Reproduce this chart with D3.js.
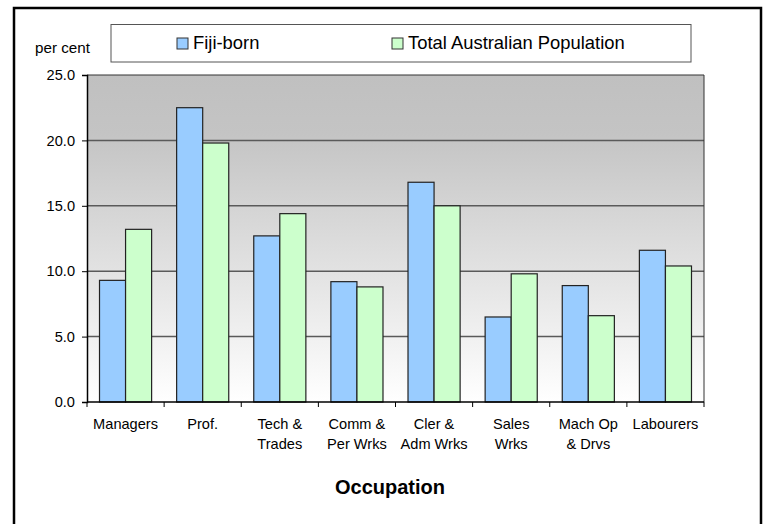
<!DOCTYPE html>
<html>
<head>
<meta charset="utf-8">
<script src="https://cdn.jsdelivr.net/npm/d3@7"></script>
<style>
  body { margin: 0; background: #fff; }
  text { font-family: "Liberation Sans", Arial, sans-serif; fill: #000; }
</style>
</head>
<body>
<div class="chart"></div>
<script>
// Data
const categories = [
  ["Managers"], ["Prof."], ["Tech &", "Trades"], ["Comm &", "Per Wrks"],
  ["Cler &", "Adm Wrks"], ["Sales", "Wrks"], ["Mach Op", "& Drvs"], ["Labourers"]
];
const seriesNames = ["Fiji-born", "Total Australian Population"];
const fijiBorn = [9.3, 22.5, 12.7, 9.2, 16.8, 6.5, 8.9, 11.6];
const totalAus = [13.2, 19.8, 14.4, 8.8, 15.0, 9.8, 6.6, 10.4];
const yTicks = [0, 5, 10, 15, 20, 25];
const colors = ["#99ccff", "#ccffcc"];

const W = 765, H = 524;
const margin = {top: 75, right: 61, bottom: 122, left: 87};
const w = W - margin.left - margin.right;
const h = H - margin.top - margin.bottom;

const svg = d3.select(".chart")
    .append("svg")
        .attr("width", W)
        .attr("height", H);

// outer frame
svg.append("rect")
    .attr("x", 14).attr("y", 8)
    .attr("width", 747).attr("height", 530)
    .attr("fill", "none")
    .attr("stroke", "#000")
    .attr("stroke-width", 2.5);

// gradient for plot background
const grad = svg.append("defs").append("linearGradient")
    .attr("id", "bg").attr("x1", 0).attr("y1", 0).attr("x2", 0).attr("y2", 1);
grad.append("stop").attr("offset", "0%").attr("stop-color", "#c0c0c0");
grad.append("stop").attr("offset", "18%").attr("stop-color", "#c4c4c4");
grad.append("stop").attr("offset", "100%").attr("stop-color", "#ffffff");

const g = svg.append("g")
    .attr("transform", "translate(" + margin.left + ", " + margin.top + ")");

g.append("rect")
    .attr("width", w).attr("height", h)
    .attr("fill", "url(#bg)");

// scales
const x = d3.scaleBand()
    .domain(d3.range(categories.length))
    .range([0, w]);
const xInner = d3.scaleBand()
    .domain([0, 1])
    .range([0, x.bandwidth()])
    .paddingOuter(0.48);
const y = d3.scaleLinear()
    .domain([0, 25])
    .range([h, 0]);

// gridlines
g.selectAll(".grid")
    .data(yTicks.filter(d => d > 0 && d < 25))
    .enter()
    .append("line")
        .attr("x1", 0).attr("x2", w)
        .attr("y1", d => y(d)).attr("y2", d => y(d))
        .attr("stroke", "#5a5a5a")
        .attr("stroke-width", 1.5);

// plot border top/right
g.append("path")
    .attr("d", `M0,0H${w}V${h}`)
    .attr("fill", "none")
    .attr("stroke", "#333")
    .attr("stroke-width", 1);

// bars
const series = [fijiBorn, totalAus];
series.forEach((vals, si) => {
    g.selectAll(".bar" + si)
        .data(vals)
        .enter()
        .append("rect")
            .attr("x", (d, i) => x(i) + xInner(si))
            .attr("y", d => y(d))
            .attr("width", xInner.bandwidth())
            .attr("height", d => h - y(d))
            .attr("fill", colors[si])
            .attr("stroke", "#222")
            .attr("stroke-width", 1.2);
});

// y axis
const yAxis = g.append("g")
    .call(d3.axisLeft(y).tickValues(yTicks).tickSize(5).tickFormat(d3.format(".1f")));
yAxis.select(".domain").attr("stroke", "#000").attr("stroke-width", 1.5);
yAxis.selectAll(".tick line").attr("stroke", "#000");
yAxis.selectAll("text")
    .attr("x", -12)
    .style("font-size", "14.6px")
    .style("font-family", "'Liberation Sans', Arial, sans-serif")
    .attr("fill", "#000");

// x axis
const xAxis = g.append("g")
    .attr("transform", "translate(0," + h + ")");
xAxis.append("line")
    .attr("x1", 0).attr("x2", w)
    .attr("stroke", "#000").attr("stroke-width", 1.5);
xAxis.selectAll(".xt")
    .data(d3.range(categories.length + 1))
    .enter()
    .append("line")
        .attr("x1", d => d * x.step()).attr("x2", d => d * x.step())
        .attr("y1", 0).attr("y2", 5)
        .attr("stroke", "#000");
const labels = xAxis.selectAll(".xl")
    .data(categories)
    .enter()
    .append("text")
        .attr("text-anchor", "middle")
        .attr("x", (d, i) => x(i) + x.bandwidth() / 2)
        .style("font-size", "14.6px");
labels.selectAll("tspan")
    .data(d => d)
    .enter()
    .append("tspan")
        .attr("x", function() { return d3.select(this.parentNode).attr("x"); })
        .attr("y", (d, i) => 27 + i * 20)
        .text(d => d);

// axis titles
svg.append("text")
    .attr("x", 35).attr("y", 53)
    .style("font-size", "15.2px")
    .text("per cent");
svg.append("text")
    .attr("x", 390).attr("y", 494)
    .attr("text-anchor", "middle")
    .style("font-size", "20px")
    .style("font-weight", "bold")
    .text("Occupation");

// legend
const legend = svg.append("g");
legend.append("rect")
    .attr("x", 111).attr("y", 24.5)
    .attr("width", 580).attr("height", 37.5)
    .attr("fill", "#fff")
    .attr("stroke", "#555")
    .attr("stroke-width", 1);
const legX = [177, 392];
seriesNames.forEach((name, i) => {
    legend.append("rect")
        .attr("x", legX[i]).attr("y", 38)
        .attr("width", 11).attr("height", 11)
        .attr("fill", colors[i])
        .attr("stroke", "#333");
    legend.append("text")
        .attr("x", legX[i] + 16).attr("y", 49)
        .style("font-size", "18.4px")
        .text(name);
});
</script>
</body>
</html>
